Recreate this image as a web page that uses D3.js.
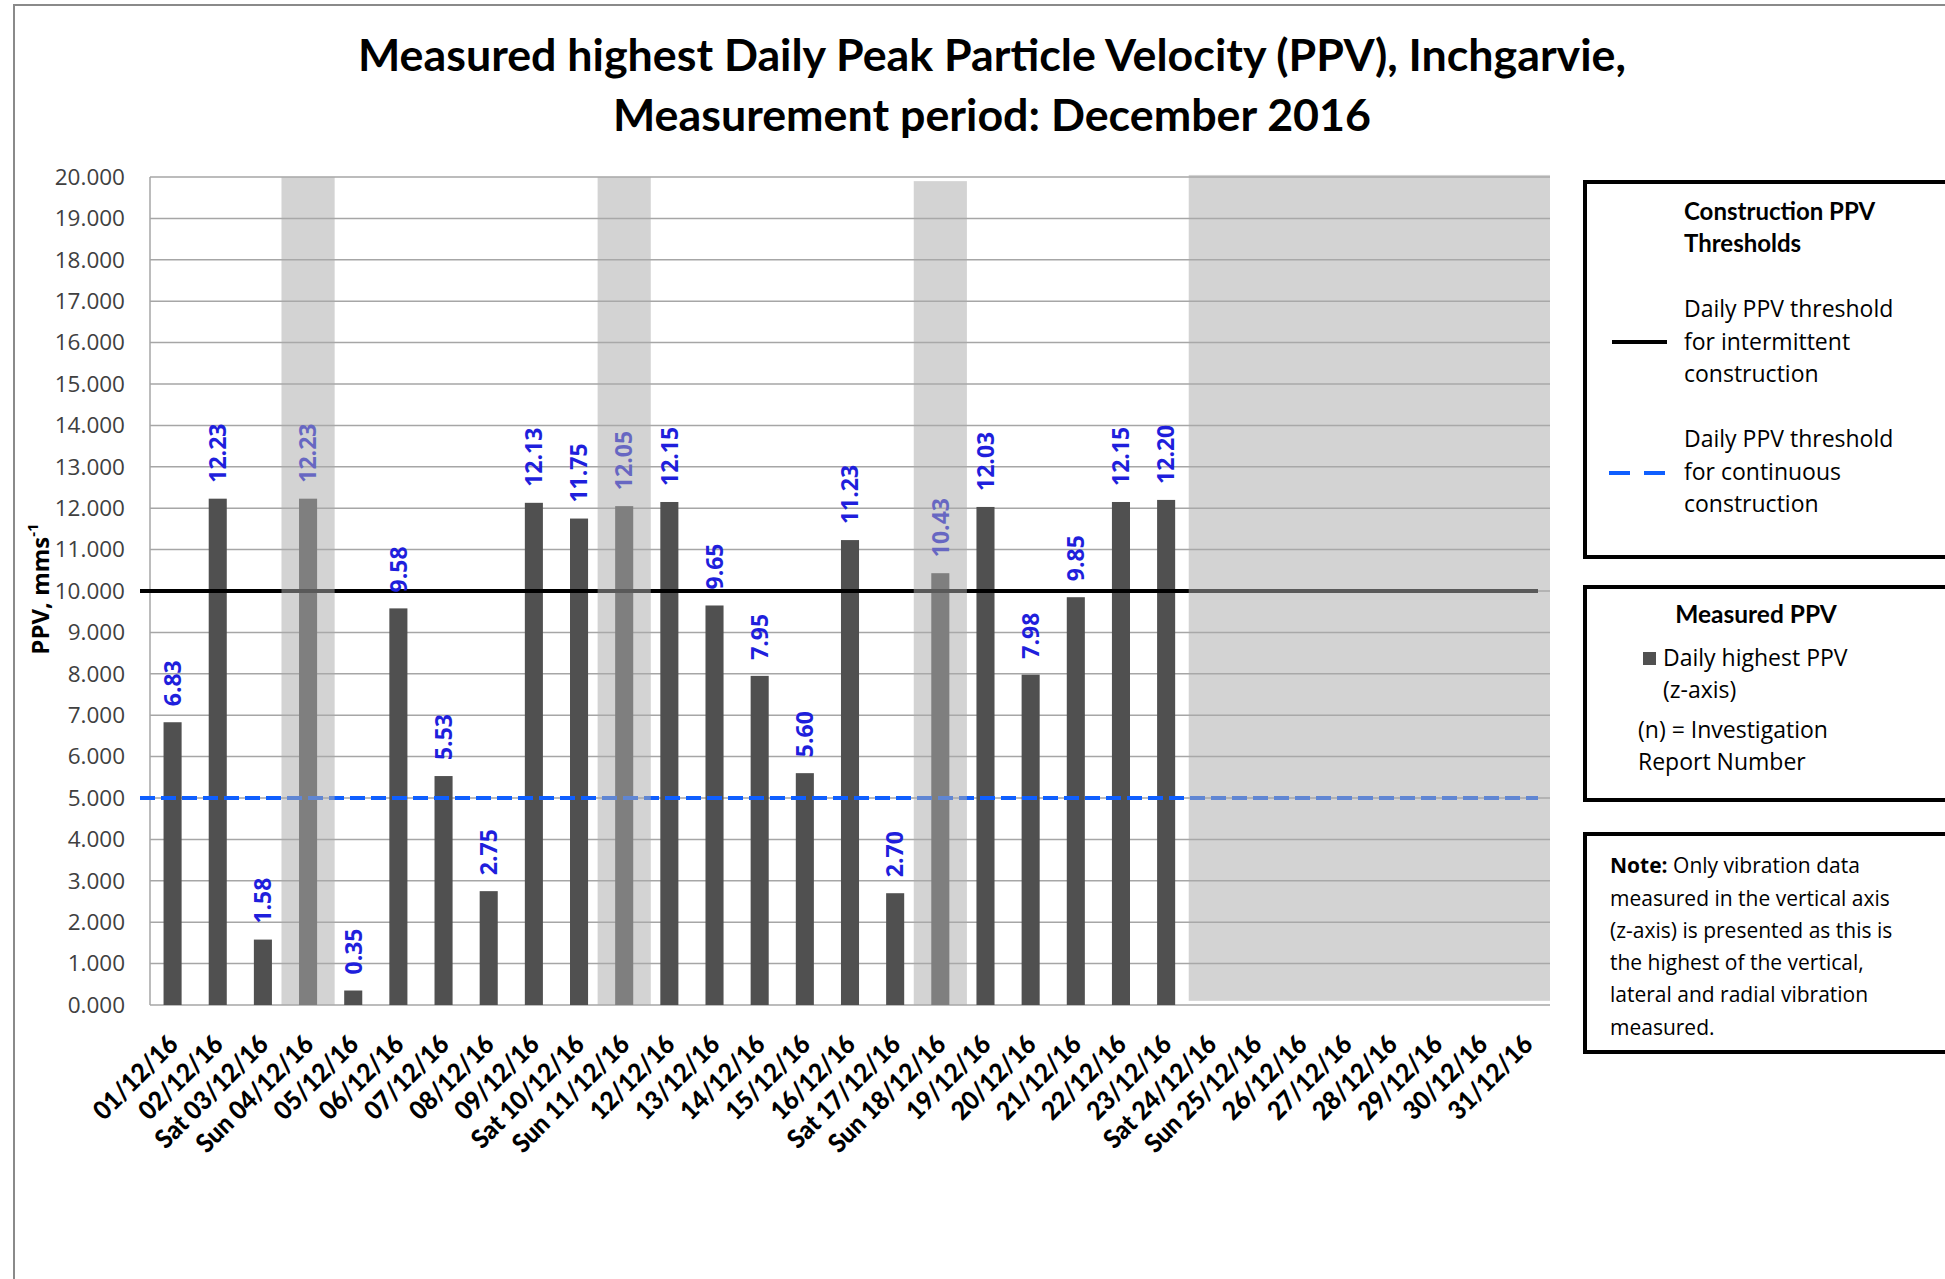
<!DOCTYPE html>
<html>
<head>
<meta charset="utf-8">
<script src="https://cdn.jsdelivr.net/npm/d3@7/dist/d3.min.js"></script>
<style>
body{margin:0;background:#fff}
svg{display:block}
</style>
</head>
<body>
<svg></svg>
<script>
// day categories (x axis)
var days = ["01/12/16","02/12/16","Sat 03/12/16","Sun 04/12/16","05/12/16","06/12/16","07/12/16","08/12/16",
	"09/12/16","Sat 10/12/16","Sun 11/12/16","12/12/16","13/12/16","14/12/16","15/12/16","16/12/16",
	"Sat 17/12/16","Sun 18/12/16","19/12/16","20/12/16","21/12/16","22/12/16","23/12/16","Sat 24/12/16",
	"Sun 25/12/16","26/12/16","27/12/16","28/12/16","29/12/16","30/12/16","31/12/16"];
// daily highest PPV (z-axis), mm/s
var ppv = [6.83,12.23,1.58,12.23,0.35,9.58,5.53,2.75,12.13,11.75,12.05,12.15,9.65,7.95,5.60,11.23,
	2.70,10.43,12.03,7.98,9.85,12.15,12.20,null,null,null,null,null,null,null,null];
// shaded (non-working) periods: first day, last day, top value
var shadeFrom = ["Sun 04/12/16","Sun 11/12/16","Sun 18/12/16","Sat 24/12/16"];
var shadeTo   = ["Sun 04/12/16","Sun 11/12/16","Sun 18/12/16","31/12/16"];
var shadeTop  = [20,20,19.9,20.05];
// thresholds
var intermittent = 10;
var continuous = 5;
var yTicks = [0,1,2,3,4,5,6,7,8,9,10,11,12,13,14,15,16,17,18,19,20];

var W = 1945, H = 1279;
var svg = d3.select("svg").attr("width", W).attr("height", H);
svg.append("rect").attr("width", W).attr("height", H).attr("fill", "white");

// outer chart frame
svg.append("path").attr("d", "M14," + H + "V5H" + W)
	.attr("fill", "none").attr("stroke", "#8a8a8a").attr("stroke-width", 2);

var x = d3.scaleBand().domain(days).range([150, 1550]).padding(0);
var y = d3.scaleLinear().domain([0, 20]).range([1005, 177]);
var barW = x.bandwidth() * 0.4;
var cx = function(d){return x(d) + x.bandwidth() / 2};

// title
var title = svg.append("g").attr("font-family", "Lato").attr("font-weight", "bold")
	.attr("font-size", 44).attr("text-anchor", "middle").attr("fill", "black");
title.append("text").attr("x", 992).attr("y", 71)
	.attr("textLength", 1268).attr("lengthAdjust", "spacingAndGlyphs")
	.text("Measured highest Daily Peak Particle Velocity (PPV), Inchgarvie,");
title.append("text").attr("x", 992).attr("y", 131)
	.attr("textLength", 758).attr("lengthAdjust", "spacingAndGlyphs")
	.text("Measurement period: December 2016");

// gridlines
svg.append("g").selectAll("line").data(yTicks).enter().append("line")
	.attr("x1", 150).attr("x2", 1550)
	.attr("y1", function(d){return y(d)}).attr("y2", function(d){return y(d)})
	.attr("stroke", "#a6a6a6").attr("stroke-width", 1.5);
svg.append("line").attr("x1", 150).attr("x2", 150).attr("y1", y(20)).attr("y2", y(0))
	.attr("stroke", "#a6a6a6").attr("stroke-width", 1.5);

// y axis
var yAxis = svg.append("g").attr("transform", "translate(150,0)")
	.call(d3.axisLeft(y).tickValues(yTicks).tickFormat(d3.format(".3f")).tickSize(0).tickPadding(25));
yAxis.select(".domain").remove();
yAxis.selectAll("text").attr("font-family", "Open Sans").attr("font-size", 22.5).attr("fill", "#404040");

// x axis
var xAxis = svg.append("g").attr("transform", "translate(0,1005)")
	.call(d3.axisBottom(x).tickSize(0));
xAxis.select(".domain").remove();
xAxis.selectAll("text")
	.attr("x", 0).attr("y", 0).attr("dy", 0)
	.attr("transform", "translate(7,41) rotate(-45) scale(0.93,1)")
	.attr("text-anchor", "end")
	.attr("font-family", "Lato").attr("font-weight", "900").attr("font-size", 26).attr("fill", "black");

// y axis title
var yt = svg.append("text").attr("transform", "translate(49,589) rotate(-90)")
	.attr("text-anchor", "middle").attr("font-family", "Open Sans").attr("font-weight", "bold")
	.attr("font-size", 24).attr("fill", "black");
yt.append("tspan").text("PPV, mms");
yt.append("tspan").attr("font-size", 15).attr("dy", -11).text("-1");

// bars
var data = days.map(function(d, i){return {day: d, v: ppv[i]}}).filter(function(d){return d.v != null});
svg.append("g").selectAll("rect").data(data).enter().append("rect")
	.attr("x", function(d){return cx(d.day) - barW / 2})
	.attr("width", barW)
	.attr("y", function(d){return y(d.v)})
	.attr("height", function(d){return y(0) - y(d.v)})
	.attr("fill", "#505050");

// threshold lines
svg.append("line").attr("x1", 140).attr("x2", 1538)
	.attr("y1", y(intermittent)).attr("y2", y(intermittent))
	.attr("stroke", "black").attr("stroke-width", 4);
svg.append("line").attr("x1", 140).attr("x2", 1538)
	.attr("y1", y(continuous)).attr("y2", y(continuous))
	.attr("stroke", "#0f5fff").attr("stroke-width", 4).attr("stroke-dasharray", "15,6");

// data labels
svg.append("g").selectAll("text").data(data).enter().append("text")
	.attr("transform", function(d){return "translate(" + cx(d.day) + "," + (y(d.v) - 16) + ") rotate(-90)"})
	.attr("dy", "0.36em")
	.attr("font-family", "Open Sans").attr("font-weight", "bold").attr("font-size", 23)
	.attr("fill", "#1f1fdc")
	.text(function(d){return d3.format(".2f")(d.v)});

// weekend / holiday shading (translucent, over the bars)
var shades = shadeFrom.map(function(d, i){return {a: d, b: shadeTo[i], top: shadeTop[i], last: i == shadeFrom.length - 1}});
svg.append("g").selectAll("rect").data(shades).enter().append("rect")
	.attr("x", function(d){return d.last ? x(d.a) : x(d.a) - 4})
	.attr("width", function(d){return d.last ? x(d.b) + x.bandwidth() - x(d.a) : x.bandwidth() + 8})
	.attr("y", function(d){return y(d.top)})
	.attr("height", function(d){return (d.last ? y(0.1) : y(0)) - y(d.top)})
	.attr("fill", "rgb(170,170,170)").attr("fill-opacity", 0.52);

// legend boxes
var lg = svg.append("g");
lg.append("rect").attr("x", 1585).attr("y", 182).attr("width", 400).attr("height", 375)
	.attr("fill", "white").attr("stroke", "black").attr("stroke-width", 4);
lg.append("rect").attr("x", 1585).attr("y", 587).attr("width", 400).attr("height", 213)
	.attr("fill", "white").attr("stroke", "black").attr("stroke-width", 4);
lg.append("rect").attr("x", 1585).attr("y", 834).attr("width", 400).attr("height", 218)
	.attr("fill", "white").attr("stroke", "black").attr("stroke-width", 4);

function lines(g, xx, y0, step, arr, bold, size){
	arr.forEach(function(t, i){
		g.append("text").attr("x", xx).attr("y", y0 + i * step)
			.attr("font-family", bold ? "Lato" : "Open Sans")
			.attr("font-weight", bold ? "bold" : "normal")
			.attr("font-size", size).attr("fill", "black").text(t);
	});
}
lines(lg, 1684, 220, 32, ["Construction  PPV", "Thresholds"], true, 24);
lines(lg, 1684, 317, 32.5, ["Daily PPV threshold", "for intermittent", "construction"], false, 23);
lines(lg, 1684, 447, 32.5, ["Daily PPV threshold", "for continuous", "construction"], false, 23);
lg.append("line").attr("x1", 1612).attr("x2", 1667).attr("y1", 342).attr("y2", 342)
	.attr("stroke", "black").attr("stroke-width", 4);
lg.append("line").attr("x1", 1609).attr("x2", 1667).attr("y1", 473).attr("y2", 473)
	.attr("stroke", "#0f5fff").attr("stroke-width", 4).attr("stroke-dasharray", "21,14");

lg.append("text").attr("x", 1756).attr("y", 623).attr("text-anchor", "middle")
	.attr("font-family", "Lato").attr("font-weight", "bold").attr("font-size", 24.5).text("Measured PPV");
lg.append("rect").attr("x", 1643).attr("y", 652).attr("width", 13).attr("height", 13).attr("fill", "#505050");
lines(lg, 1663, 666, 32, ["Daily highest PPV", "(z-axis)"], false, 23);
lines(lg, 1638, 738, 32, ["(n) = Investigation", "Report  Number"], false, 23);

var note = lg.append("text").attr("x", 1610).attr("y", 873)
	.attr("font-family", "Open Sans").attr("font-size", 21).attr("fill", "black");
note.append("tspan").attr("font-weight", "bold").text("Note:");
note.append("tspan").text(" Only vibration data");
lines(lg, 1610, 905.5, 32.3, ["measured in the vertical axis", "(z-axis) is presented  as this is",
	"the highest of the vertical,", "lateral and radial vibration", "measured."], false, 21);
</script>
</body>
</html>
